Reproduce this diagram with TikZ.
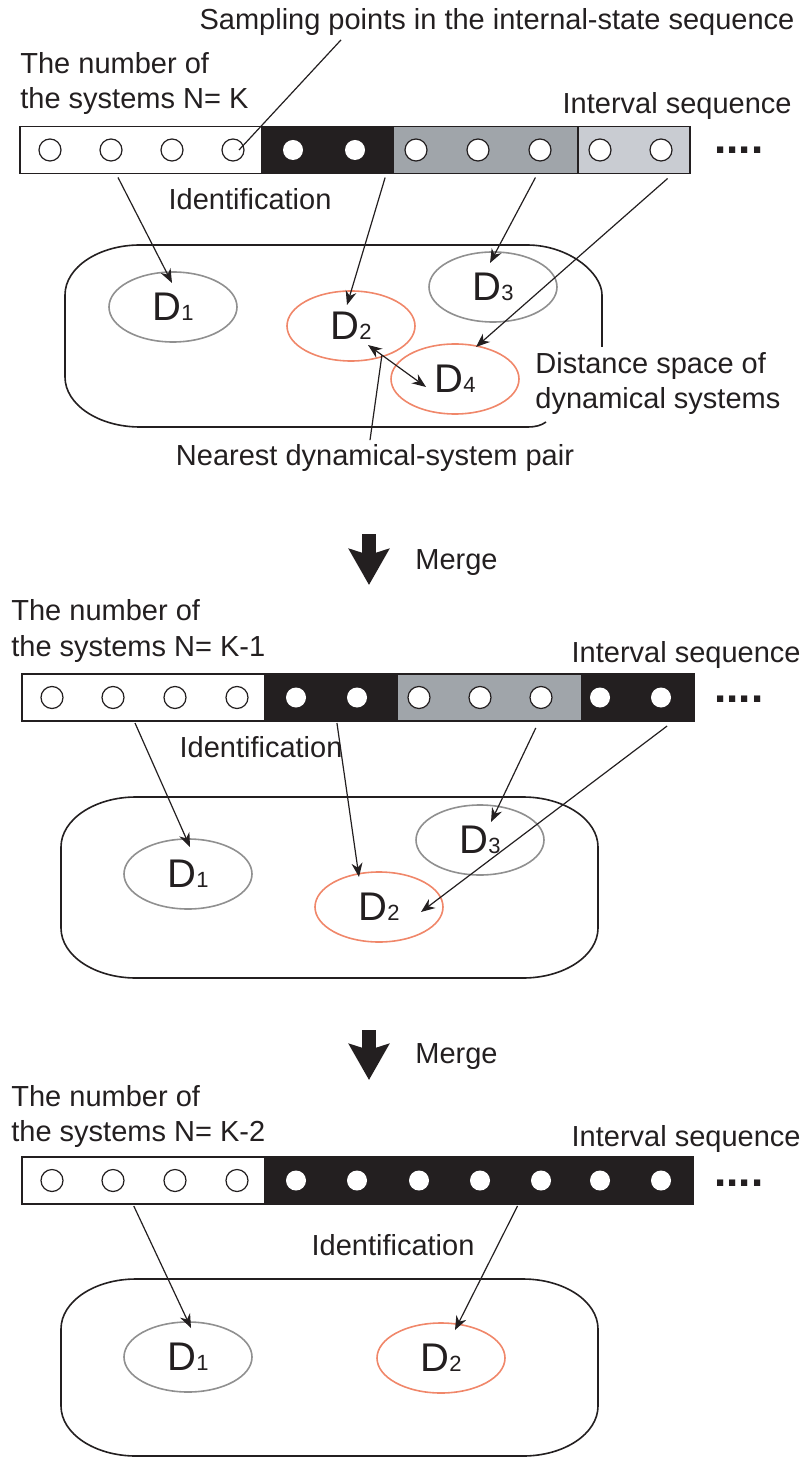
\documentclass[tikz,border=0pt]{standalone}
\usepackage{fontspec}
\setmainfont{Liberation Sans}
\usetikzlibrary{arrows.meta,positioning,shapes.geometric,calc}
\definecolor{barblack}{HTML}{231F20}
\definecolor{bargray}{HTML}{A0A5AA}
\definecolor{barlight}{HTML}{C9CCD2}
\definecolor{dsgray}{HTML}{909090}
\definecolor{dsred}{HTML}{F0876A}
\newcommand{\Dsys}[1]{{\fontsize{20}{20}\selectfont D}{\fontsize{11}{11}\selectfont #1}}
\tikzset{
  lab/.style={font=\fontsize{14.5}{17.5}\selectfont, inner sep=0pt, align=left, text=barblack},
  seg/.style={draw=barblack, line width=0.65pt, minimum height=23.5pt, inner sep=0pt, outer sep=0pt},
  opendot/.style={circle, draw=barblack, fill=white, line width=0.6pt, minimum size=11pt, inner sep=0pt},
  fulldot/.style={circle, fill=white, minimum size=10pt, inner sep=0pt},
  dsys/.style={ellipse, draw=dsgray, line width=0.8pt, minimum width=64pt, minimum height=35pt,
               inner sep=0pt, text=barblack},
  dpair/.style={dsys, draw=dsred},
  arr/.style={-{Stealth[length=7pt,width=5.5pt]}, line width=0.6pt, draw=barblack},
  dblarr/.style={{Stealth[length=7pt,width=5.5pt]}-{Stealth[length=7pt,width=5.5pt]}, line width=0.6pt, draw=barblack},
  mergearr/.style={-{Stealth[length=18pt,width=20pt,inset=3pt]}, line width=7pt, draw=barblack},
  dspace/.style={line width=0.8pt, draw=barblack},
  more/.style={font=\fontsize{22}{22}\selectfont\bfseries, inner sep=0pt, anchor=base west,
               text height=3pt, text depth=0pt, text=barblack},
}

\begin{document}
\begin{tikzpicture}[x=0.5pt,y=-0.5pt]
  \useasboundingbox (0,0) rectangle (808,1459);

  % N = K
  \node[lab] (samp) at (497,22) {Sampling points in the internal-state sequence};
  \node[lab, anchor=west] (num1) at (20,84) {The number of\\the systems N= K};
  \node[lab, anchor=east] (int1) at (792,106) {Interval sequence};
  \node[seg, fill=white, minimum width=121pt, anchor=west] (w1) at (20,150) {};
  \node[seg, fill=barblack, minimum width=65.5pt, right=0pt of w1] (k1) {};
  \node[seg, fill=bargray, minimum width=92.5pt, right=0pt of k1] (g1) {};
  \node[seg, fill=barlight, minimum width=56pt, right=0pt of g1] (l1) {};
  \foreach \x [count=\i] in {50,111,172,233} \node[opendot] (o1\i) at (\x,150) {};
  \foreach \x [count=\i] in {293,355} \node[fulldot] (f1\i) at (\x,150) {};
  \foreach \x [count=\i] in {416,478,540,600,661} \node[opendot] (q1\i) at (\x,150) {};
  \node[more] (dots1) at (714,154) {....};
  \draw[dspace] (602,347) -- (602,295) .. controls (602,272.6) and (568.4,245) .. (527,245) -- (140,245)
    .. controls (98.6,245) and (65,267.4) .. (65,295) -- (65,377) .. controls (65,404.6) and (98.6,427) .. (140,427)
    -- (527,427) .. controls (536,427) and (541,425.5) .. (546,422);
  \node[dsys] (d11) at (173,307) {\Dsys{1}};
  \node[dpair] (d12) at (351,326) {\Dsys{2}};
  \node[dsys] (d13) at (493,287) {\Dsys{3}};
  \node[dpair] (d14) at (455,379) {\Dsys{4}};
  \node[lab] (id1) at (250,199) {Identification};
  \node[lab, anchor=west] (dist) at (535,384) {Distance space of\\dynamical systems};
  \node[lab] (near) at (375,458) {Nearest dynamical-system pair};
  \draw[barblack, line width=0.6pt] ([shift={(-78pt,-2pt)}]samp.south) -- ($(o14)+(6,0)$);
  \draw[arr] ($(w1.south west)!0.405!(w1.south east)+(0,4)$) -- ($(d11)+(-1,-24)$);
  \draw[arr] ($(k1.south west)!0.94!(k1.south east)+(0,4)$) -- ($(d12)+(-4,-21)$);
  \draw[arr] ($(g1.south west)!0.77!(g1.south east)+(0,4)$) -- ($(d13)+(-3,-24)$);
  \draw[arr] ($(l1.south west)!0.80!(l1.south east)+(0,5)$) -- ($(d14)+(21,-32)$);
  \draw[dblarr] ($(d12)+(17,19)$) -- coordinate[pos=0.24] (pairpt) ($(d14)+(-29,8)$);
  \draw[barblack, line width=0.6pt] ([shift={(-2.5pt,2pt)}]near.north) -- (pairpt);

  \coordinate (m1a) at (369,534);
  \coordinate (m1b) at (369,585);
  \draw[mergearr] (m1a) -- (m1b);
  \node[lab, anchor=west] (mrg1) at (415,563) {Merge};

  % N = K-1
  \node[lab, anchor=west] (num2) at (11,631) {The number of\\the systems N= K-1};
  \node[lab, anchor=east] (int2) at (801,655) {Interval sequence};
  \node[seg, fill=white, minimum width=121.5pt, anchor=west] (w2) at (22,697.5) {};
  \node[seg, fill=barblack, minimum width=66pt, right=0pt of w2] (k2) {};
  \node[seg, fill=bargray, minimum width=92.5pt, right=0pt of k2] (g2) {};
  \node[seg, fill=barblack, minimum width=56pt, right=0pt of g2] (k2b) {};
  \foreach \x [count=\i] in {52,113,175,237} \node[opendot] (o2\i) at (\x,697.5) {};
  \foreach \x [count=\i] in {296,357,600,661} \node[fulldot] (f2\i) at (\x,697.5) {};
  \foreach \x [count=\i] in {419,480,541} \node[opendot] (q2\i) at (\x,697.5) {};
  \node[more] (dots2) at (714,702) {....};
  \draw[dspace] (61,847) .. controls (61,819.6) and (94.6,797) .. (136,797) -- (523,797)
    .. controls (564.4,797) and (598,819.6) .. (598,847) -- (598,928) .. controls (598,955.6) and (564.4,978) .. (523,978)
    -- (136,978) .. controls (94.6,978) and (61,955.6) .. (61,928) -- cycle;
  \node[dsys] (d21) at (188,874) {\Dsys{1}};
  \node[dpair] (d22) at (379,907) {\Dsys{2}};
  \node[dsys] (d23) at (480,840) {\Dsys{3}};
  \node[lab] (id2) at (261,747) {Identification};
  \draw[arr] ($(w2.south west)!0.465!(w2.south east)+(0,2)$) -- ($(d21)+(2,-27)$);
  \draw[arr] ($(k2.south west)!0.545!(k2.south east)+(0,2)$) -- ($(d22)+(-20,-30)$);
  \draw[arr] ($(g2.south west)!0.75!(g2.south east)+(0,7)$) -- ($(d23)+(11,-18)$);
  \draw[arr] ($(k2b.south west)!0.76!(k2b.south east)+(0,5)$) -- ($(d22)+(42,5)$);

  \coordinate (m2a) at (369,1030);
  \coordinate (m2b) at (369,1080);
  \draw[mergearr] (m2a) -- (m2b);
  \node[lab, anchor=west] (mrg2) at (415,1057) {Merge};

  % N = K-2
  \node[lab, anchor=west] (num3) at (11,1116) {The number of\\the systems N= K-2};
  \node[lab, anchor=east] (int3) at (801,1139) {Interval sequence};
  \node[seg, fill=white, minimum width=121.5pt, anchor=west] (w3) at (22,1180.5) {};
  \node[seg, fill=barblack, minimum width=214pt, right=0pt of w3] (k3) {};
  \foreach \x [count=\i] in {52,113,175,237} \node[opendot] (o3\i) at (\x,1180.5) {};
  \foreach \x [count=\i] in {296,357,419,480,541,600,661} \node[fulldot] (f3\i) at (\x,1180.5) {};
  \node[more] (dots3) at (714,1186) {....};
  \draw[dspace] (61,1329) .. controls (61,1301.4) and (94.6,1279) .. (136,1279) -- (523,1279)
    .. controls (564.4,1279) and (598,1301.4) .. (598,1329) -- (598,1406) .. controls (598,1433.6) and (564.4,1456) .. (523,1456)
    -- (136,1456) .. controls (94.6,1456) and (61,1433.6) .. (61,1406) -- cycle;
  \node[dsys] (d31) at (188,1357) {\Dsys{1}};
  \node[dpair] (d32) at (441,1358) {\Dsys{2}};
  \node[lab] (id3) at (393,1245) {Identification};
  \draw[arr] ($(w3.south west)!0.46!(w3.south east)+(0,2)$) -- ($(d31)+(3,-29)$);
  \draw[arr] ($(k3.south west)!0.59!(k3.south east)+(0,2)$) -- ($(d32)+(14,-28)$);
\end{tikzpicture}
\end{document}
